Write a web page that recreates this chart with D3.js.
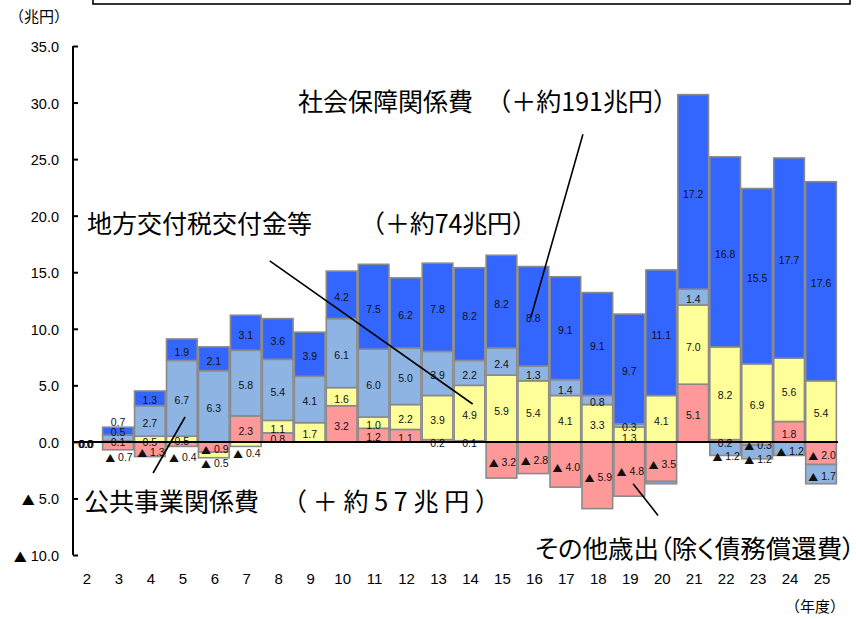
<!DOCTYPE html>
<html>
<head>
<meta charset="utf-8">
<script src="https://cdn.jsdelivr.net/npm/d3@7"></script>
<style>
  html, body { margin: 0; padding: 0; background: #fff; }
  svg { display: block; }
</style>
</head>
<body>
<svg id="chart" width="856" height="620"></svg>
<script>
// Fiscal years (Heisei) on the x axis
const years = ["2","3","4","5","6","7","8","9","10","11","12","13","14","15","16","17","18","19","20","21","22","23","24","25"];

// Increase over FY2 for each expenditure item (trillion yen)
const socialSecurity = [0.0, 0.7, 1.3, 1.9, 2.1, 3.1, 3.6, 3.9, 4.2, 7.5, 6.2, 7.8, 8.2, 8.2, 8.8, 9.1, 9.1, 9.7, 11.1, 17.2, 16.8, 15.5, 17.7, 17.6];
const publicWorks    = [0.0, 0.5, 2.7, 6.7, 6.3, 5.8, 5.4, 4.1, 6.1, 6.0, 5.0, 3.9, 2.2, 2.4, 1.3, 1.4, 0.8, 0.3, -0.2, 1.4, -1.2, -1.2, -1.2, -1.7];
const localTax       = [0.0, 0.1, 0.5, 0.5, -0.5, -0.4, 1.1, 1.7, 1.6, 1.0, 2.2, 3.9, 4.9, 5.9, 5.4, 4.1, 3.3, 1.3, 4.1, 7.0, 8.2, 6.9, 5.6, 5.4];
const otherSpending  = [0.0, -0.7, -1.3, -0.4, -0.9, 2.3, 0.8, 0.0, 3.2, 1.2, 1.1, 0.2, 0.1, -3.2, -2.8, -4.0, -5.9, -4.8, -3.5, 5.1, 0.2, -0.3, 1.8, -2.0];

// Y axis tick values and their printed labels
const yTickValues = [-10, -5, 0, 5, 10, 15, 20, 25, 30, 35];
const yTickLabels = ["▲ 10.0", "▲ 5.0", "0.0", "5.0", "10.0", "15.0", "20.0", "25.0", "30.0", "35.0"];

// Series, bottom of the stack first
const seriesKeys = ["other", "local", "works", "social"];
const seriesValues = { other: otherSpending, local: localTax, works: publicWorks, social: socialSecurity };
const seriesColor = { other: "#FF9999", local: "#FFFF99", works: "#8DB4E2", social: "#3366FF" };

// Segments whose value label is left off, and hand-placed label offsets (px)
const hiddenLabels = new Set(["other-9", "works-20"]);
const labelNudge = {
  "social-3": -11.5, "works-3": -7.5, "local-3": -1.5, "other-3": 9,
  "local-4": 0.5, "other-4": 1,
  "other-5": 11,
  "local-6": 6,
  "local-7": 7,
  "local-19": 1.5,
  "works-22": 5, "works-23": 4.5, "other-23": -0.5
};

const svg = d3.select("#chart");

const x = d3.scaleBand().domain(years).range([70, 837]).paddingInner(0.04).paddingOuter(0.02);
const y = d3.scaleLinear().domain([-10, 35]).range([555, 46]);
// continuous year position used to anchor the leader lines
const xPos = d3.scaleLinear().domain([2, 25]).range([x("2") + x.bandwidth() / 2, x("25") + x.bandwidth() / 2]);

const rows = years.map((yr, i) => {
  const r = { year: yr };
  seriesKeys.forEach(k => r[k] = seriesValues[k][i]);
  return r;
});

const stacked = d3.stack().keys(seriesKeys).offset(d3.stackOffsetDiverging)(rows);

const numFont = "'Liberation Sans Narrow', 'Arial Narrow', 'Liberation Sans', Arial, sans-serif";
const jpFont = "'Noto Sans CJK JP', 'Noto Sans', sans-serif";

// bars
const gBars = svg.append("g");
stacked.forEach(layer => {
  gBars.selectAll(null)
    .data(layer)
    .join("rect")
    .attr("x", d => x(d.data.year))
    .attr("width", x.bandwidth())
    .attr("y", d => y(Math.max(d[0], d[1])))
    .attr("height", d => Math.abs(y(d[0]) - y(d[1])))
    .attr("fill", seriesColor[layer.key])
    .attr("stroke", "#8a8a8a")
    .attr("stroke-width", 1.6);
});

// writes a value, with the minus sign shown as a black triangle
function writeValue(sel, v, triSize) {
  if (v < 0) {
    sel.append("tspan").attr("font-family", jpFont).attr("font-size", triSize).text("▲");
    sel.append("tspan").text(" " + d3.format(".1f")(-v));
  } else {
    sel.text(d3.format(".1f")(v));
  }
}

// value labels
const gLab = svg.append("g")
  .attr("font-family", numFont)
  .attr("font-size", 10.5)
  .attr("fill", "#111")
  .attr("text-anchor", "middle");

stacked.forEach(layer => {
  layer.forEach((d, i) => {
    const key = layer.key + "-" + d.data.year;
    if (hiddenLabels.has(key)) return;
    const v = seriesValues[layer.key][i];
    const cy = y((d[0] + d[1]) / 2) + 2 + (labelNudge[key] || 0);
    const cx = x(d.data.year) + x.bandwidth() / 2 + (v < 0 ? 1 : 0) + (d.data.year === "2" ? (seriesKeys.indexOf(layer.key) - 1.5) * 0.4 : 0);
    const t = gLab.append("text")
      .attr("x", cx)
      .attr("y", cy)
      .attr("dominant-baseline", "central");
    writeValue(t, v, 10);
  });
});

// zero line
svg.append("line")
  .attr("x1", 73).attr("x2", 838)
  .attr("y1", y(0)).attr("y2", y(0))
  .attr("stroke", "#000").attr("stroke-width", 2);

// y axis
const yAxis = d3.axisRight(y)
  .tickValues(yTickValues)
  .tickSize(5)
  .tickFormat("");
const gy = svg.append("g").attr("transform", "translate(73,0)").call(yAxis);
gy.select(".domain").attr("stroke", "#000").attr("stroke-width", 2).attr("d", `M0,${y(-10)}V${y(35)}`);
gy.selectAll(".tick line").attr("stroke", "#000").attr("stroke-width", 2);

svg.append("g")
  .attr("font-family", "'Liberation Sans', Arial, sans-serif")
  .attr("font-size", 14.5)
  .attr("text-anchor", "end")
  .selectAll("text")
  .data(yTickValues)
  .join("text")
  .attr("x", 59)
  .attr("y", d => y(d) + 1)
  .attr("dominant-baseline", "central")
  .each(function(d, i) {
    const s = d3.select(this);
    const lab = yTickLabels[i];
    if (lab.startsWith("▲")) {
      s.append("tspan").attr("font-family", jpFont).attr("font-size", 13).text("▲");
      s.append("tspan").text(lab.slice(1));
    } else {
      s.text(lab);
    }
  });

// x labels
svg.append("g")
  .attr("font-family", numFont)
  .attr("font-size", 15)
  .attr("text-anchor", "middle")
  .selectAll("text")
  .data(years)
  .join("text")
  .attr("x", d => x(d) + x.bandwidth() / 2 + 1)
  .attr("y", 578)
  .attr("dominant-baseline", "central")
  .text(d => d);

// unit captions
svg.append("text").attr("x", 9).attr("y", 15).attr("font-family", jpFont).attr("font-size", 15)
  .attr("dominant-baseline", "central").text("（兆円）");
svg.append("text").attr("x", 845).attr("y", 605).attr("font-family", jpFont).attr("font-size", 15)
  .attr("text-anchor", "end").attr("dominant-baseline", "central").text("（年度）");

// frame at the top edge
svg.append("rect").attr("x", 93).attr("y", -20).attr("width", 757).attr("height", 24)
  .attr("fill", "none").attr("stroke", "#000").attr("stroke-width", 1.6);

// item captions with leader lines
const captions = [
  { parts: [{ t: "社会保障関係費", x: 298 }, { t: "（＋約191兆円）", x: 678, anchor: "end" }], y: 100,
    from: [17.55, 27.2], to: [15.92, 11.0] },
  { parts: [{ t: "地方交付税交付金等", x: 87 }, { t: "（＋約74兆円）", x: 360, len: 177 }], y: 222,
    from: [7.75, 16.0], to: [14.1, 3.35] },
  { parts: [{ t: "公共事業関係費", x: 84 }, { t: "（＋約57兆円）", x: 282, len: 218 }], y: 500,
    from: [4.1, -2.75], to: [5.1, 2.2] },
  { parts: [{ t: "その他歳出（除く債務償還費）", x: 535, len: 320, palt: true }], y: 547,
    from: [19.12, -3.7], to: [19.9, -6.5] }
];

const gCap = svg.append("g").attr("font-family", jpFont).attr("font-size", 25).attr("fill", "#000");
captions.forEach(c => {
  c.parts.forEach(p => {
    const t = gCap.append("text").attr("x", p.x).attr("y", c.y)
      .attr("text-anchor", p.anchor || "start")
      .attr("dominant-baseline", "central").text(p.t);
    if (p.len) t.attr("textLength", p.len).attr("lengthAdjust", p.palt ? "spacingAndGlyphs" : "spacing");
    if (p.palt) t.style("font-feature-settings", "'palt'");
  });
  svg.append("line")
    .attr("x1", xPos(c.from[0])).attr("y1", y(c.from[1]))
    .attr("x2", xPos(c.to[0])).attr("y2", y(c.to[1]))
    .attr("stroke", "#000").attr("stroke-width", 1.6);
});
</script>
</body>
</html>
